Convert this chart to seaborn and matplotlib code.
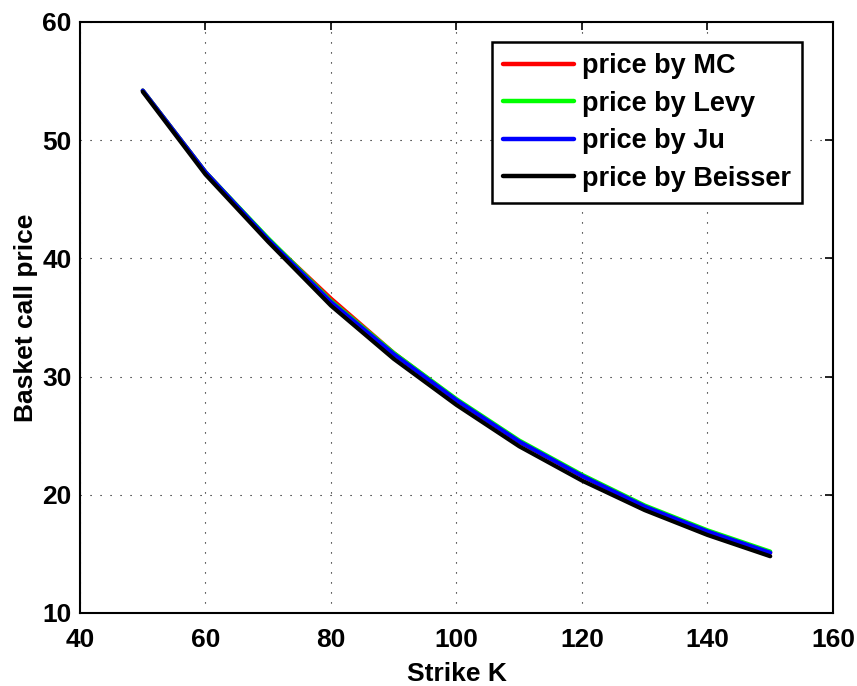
import numpy as np
import pandas as pd
import matplotlib
matplotlib.use("Agg")
import matplotlib.pyplot as plt
import seaborn as sns

# Strike prices and basket call prices from four pricing methods
strikes = [50, 60, 70, 80, 90, 100, 110, 120, 130, 140, 150]
price_mc = [54.2, 47.3, 41.6, 36.6, 32.0, 28.0, 24.5, 21.6, 19.0, 16.9, 15.1]
price_levy = [54.2, 47.3, 41.7, 36.4, 32.0, 28.1, 24.6, 21.7, 19.1, 17.0, 15.2]
price_ju = [54.2, 47.3, 41.6, 36.3, 31.9, 28.0, 24.5, 21.6, 19.0, 16.9, 15.1]
price_beisser = [54.1, 47.1, 41.4, 36.0, 31.5, 27.6, 24.1, 21.2, 18.7, 16.6, 14.8]

methods = ["price by MC", "price by Levy", "price by Ju", "price by Beisser"]
series = [price_mc, price_levy, price_ju, price_beisser]
colors = ["#ff0000", "#00ff00", "#0000ff", "#000000"]

df = pd.DataFrame({
    "Strike K": np.tile(strikes, len(methods)),
    "price": np.concatenate(series),
    "method": np.repeat(methods, len(strikes)),
})

sns.set_style("white")
plt.rcParams["font.family"] = ["Liberation Sans", "DejaVu Sans"]
plt.rcParams["font.weight"] = "bold"
plt.rcParams["text.color"] = "black"
plt.rcParams["axes.labelcolor"] = "black"
plt.rcParams["xtick.color"] = "black"
plt.rcParams["ytick.color"] = "black"

FS = 19

fig = plt.figure(figsize=(8.57, 6.86), dpi=100)
ax = fig.add_axes([80 / 857, 1 - 613 / 686, (833 - 80) / 857, (613 - 22) / 686])

sns.lineplot(data=df, x="Strike K", y="price", hue="method", hue_order=methods,
             palette=dict(zip(methods, colors)), linewidth=3.0, ax=ax,
             estimator=None, sort=False)

ax.set_xlim(40, 160)
ax.set_ylim(10, 60)
ax.set_xticks(np.arange(40, 161, 20))
ax.set_yticks(np.arange(10, 61, 10))
ax.grid(True, color="black", linestyle=(0, (1, 8)), linewidth=0.8)
ax.set_axisbelow(True)

for s in ax.spines.values():
    s.set_visible(True)
    s.set_color("black")
    s.set_linewidth(1.5)

ax.tick_params(axis="both", direction="in", length=6, width=1.2, labelsize=FS,
               colors="black", labelcolor="black", top=True, right=True)
ax.tick_params(axis="x", pad=11)
ax.tick_params(axis="y", pad=6)
for lbl in ax.get_xticklabels() + ax.get_yticklabels():
    lbl.set_fontweight("bold")
    lbl.set_color("black")

ax.set_xlabel("Strike K", fontsize=FS, fontweight="bold", color="black", labelpad=7)
ax.set_ylabel("Basket call price", fontsize=FS, fontweight="bold", color="black", labelpad=3)

leg = ax.legend(loc="upper right", bbox_to_anchor=(802 / 857, 1 - 42 / 686),
                bbox_transform=fig.transFigure, fontsize=19.5, frameon=True,
                fancybox=False, framealpha=1.0, handlelength=2.6, handletextpad=0.3,
                borderpad=0.42, labelspacing=0.42, borderaxespad=0)
leg.get_frame().set_edgecolor("black")
leg.get_frame().set_linewidth(1.8)
for t in leg.get_texts():
    t.set_fontweight("bold")
    t.set_color("black")
for h in leg.get_lines():
    h.set_linewidth(3.2)

fig.savefig("out.png", dpi=100)
